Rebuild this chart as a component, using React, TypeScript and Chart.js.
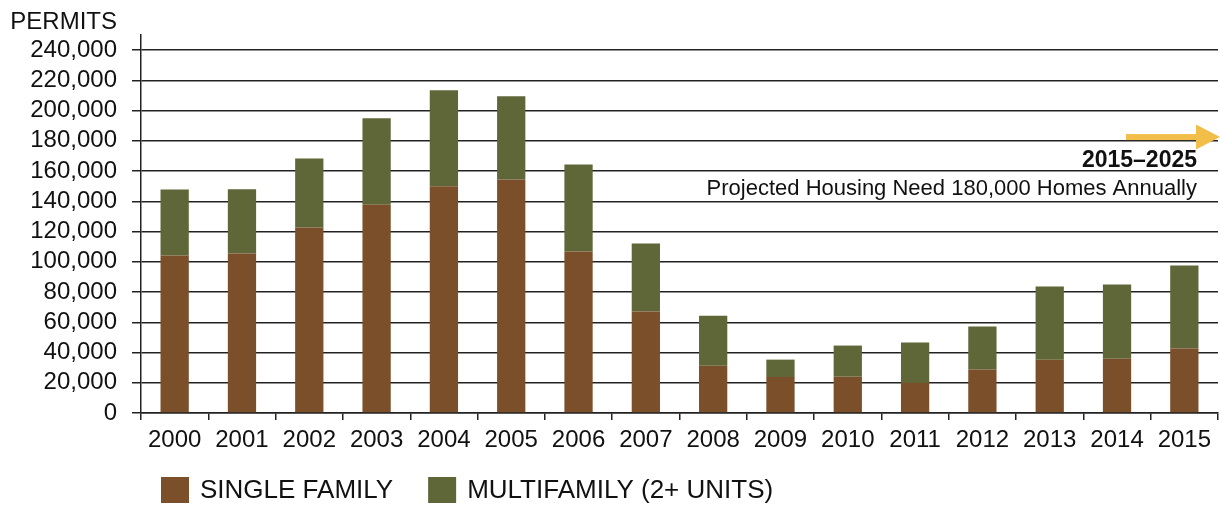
import React, { useEffect, useRef } from "react";
import { Chart, registerables } from "chart.js";

Chart.register(...registerables);

const years = ["2000","2001","2002","2003","2004","2005","2006","2007","2008","2009","2010","2011","2012","2013","2014","2015"];
const singleFamily = [104200,105500,122700,137700,150000,154500,106800,67100,31300,23800,24000,19900,28700,35300,35800,42600];
const multiFamily = [43700,42500,45700,57200,63400,55000,57600,45000,33100,11500,20600,26700,28500,48300,49200,54900];
const yTicks = [0,20000,40000,60000,80000,100000,120000,140000,160000,180000,200000,220000,240000];
const legendLabels = ["SINGLE FAMILY", "MULTIFAMILY (2+ UNITS)"];
const annoTitle = "2015\u20132025";
const annoText = "Projected Housing Need 180,000 Homes Annually";
const axisTitle = "PERMITS";

const BROWN = "#7A4F2A";
const GREEN = "#5F6637";
const ARROW = "#F2BE4A";
const LINE = "#222";
const FONT = "'Liberation Sans', Arial, Helvetica, sans-serif";

const overlay = {
  id: "overlay",
  afterDraw(chart: any) {
    const ctx = chart.ctx;
    const y = chart.scales.y;
    const area = chart.chartArea;
    ctx.save();
    ctx.fillStyle = "#111";
    ctx.font = `24px ${FONT}`;
    ctx.textAlign = "right";
    ctx.textBaseline = "alphabetic";
    ctx.fillText(axisTitle, 117, 29);

    const ay = y.getPixelForValue(182500);
    const tip = chart.width;
    ctx.fillStyle = ARROW;
    ctx.fillRect(1126, ay - 3, 72, 6);
    ctx.beginPath();
    ctx.moveTo(1196, ay - 12.5);
    ctx.lineTo(tip, ay);
    ctx.lineTo(1196, ay + 12.5);
    ctx.closePath();
    ctx.fill();

    ctx.fillStyle = "#111";
    ctx.textAlign = "right";
    ctx.font = `bold 23px ${FONT}`;
    ctx.fillText(annoTitle, 1197, y.getPixelForValue(162500));
    ctx.font = `22px ${FONT}`;
    ctx.fillText(annoText, 1197, y.getPixelForValue(144500));

    const colors = [BROWN, GREEN];
    ctx.font = `26px ${FONT}`;
    ctx.textAlign = "left";
    ctx.textBaseline = "middle";
    let x = area.left + 20;
    const ly = 490;
    legendLabels.forEach((lab, i) => {
      ctx.fillStyle = colors[i];
      ctx.fillRect(x, ly - 13, 28, 26);
      ctx.fillStyle = "#111";
      ctx.fillText(lab, x + 39, ly + 1);
      x += 39 + ctx.measureText(lab).width + 35;
    });
    ctx.restore();
  },
};

export default function App() {
  const ref = useRef<HTMLCanvasElement | null>(null);
  useEffect(() => {
    document.body.style.margin = "0";
    const canvas = ref.current!;
    const chart = new Chart(canvas, {
      type: "bar",
      data: {
        labels: years,
        datasets: [
          { label: legendLabels[0], data: singleFamily, backgroundColor: BROWN, barPercentage: 0.42, categoryPercentage: 1 },
          { label: legendLabels[1], data: multiFamily, backgroundColor: GREEN, barPercentage: 0.42, categoryPercentage: 1 },
        ],
      },
      options: {
        responsive: false,
        animation: false,
        layout: { padding: { top: 35, right: 2, left: 0, bottom: 53 } },
        plugins: { legend: { display: false }, title: { display: false }, tooltip: { enabled: false } },
        scales: {
          x: {
            stacked: true,
            afterFit: (s: any) => { s.height = 40; },
            grid: { offset: true, drawOnChartArea: false, drawTicks: true, tickLength: 7, color: LINE, lineWidth: 1.5 },
            border: { display: true, color: LINE, width: 1.5 },
            ticks: { color: "#111", font: { family: FONT, size: 24 }, padding: 6, maxRotation: 0, autoSkip: false },
          },
          y: {
            stacked: true,
            min: 0,
            max: 250000,
            afterFit: (s: any) => { s.width = 141; },
            afterBuildTicks: (s: any) => { s.ticks = yTicks.map((v) => ({ value: v })); },
            grid: { color: LINE, lineWidth: 1.5, drawTicks: true, tickLength: 9 },
            border: { display: true, color: LINE, width: 1.5 },
            ticks: {
              color: "#111",
              padding: 15,
              autoSkip: false,
              font: { family: FONT, size: 24 },
              callback: (v: any) => Number(v).toLocaleString("en-US"),
            },
          },
        },
      },
      plugins: [overlay],
    });
    return () => chart.destroy();
  }, []);
  return (
    <div style={{ width: 1220, height: 506 }}>
      <canvas ref={ref} width={1220} height={506} style={{ display: "block" }} />
    </div>
  );
}
